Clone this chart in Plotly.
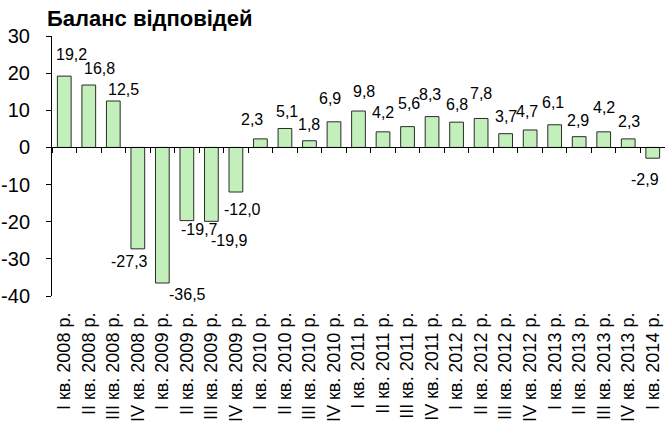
import plotly.graph_objects as go

# ---- data ----
quarters = ["I", "II", "III", "IV"]
categories = [f"{q} кв. {y} р." for y in range(2008, 2015) for q in quarters][:25]
values = [19.2, 16.8, 12.5, -27.3, -36.5, -19.7, -19.9, -12.0,
          2.3, 5.1, 1.8, 6.9, 9.8, 4.2, 5.6, 8.3,
          6.8, 7.8, 3.7, 4.7, 6.1, 2.9, 4.2, 2.3, -2.9]
labels = [f"{v:.1f}".replace(".", ",") for v in values]
y_ticks = [-40, -30, -20, -10, 0, 10, 20, 30]
y_ticktext = [str(t) for t in y_ticks]  # plain hyphen minus, as in the original

# ---- label nudges (px, as placed in the original chart) ----
label_dx = [7, 11, 10, -8, 25, 13, 18, 7, -8, 2, 0, -4, 5, 0, 1, -2,
            0, 0, 0, -3, -2, -1, 0, 1, -8]
label_dy = [22, 17, 12, -13, -11, -9, -19, -17, 19, 17, 16, 23, 20, 19, 23, 22,
            18, 25, 17, 18, 22, 16, 24, 17, -21]

W, H = 665, 424
ML, MR, MT, MB = 52, 0, 36, 128
YMIN, YMAX = -40, 30

fig = go.Figure()
fig.add_trace(go.Bar(
    x=categories, y=values,
    marker=dict(color="#c2efba", line=dict(color="#2b2b2b", width=1)),
    width=0.56, hoverinfo="skip",
))

annotations = []
for c, v, t, dx, dy in zip(categories, values, labels, label_dx, label_dy):
    annotations.append(dict(
        x=c, y=v, text=t, showarrow=False, xref="x", yref="y",
        xanchor="center", yanchor="middle", xshift=dx, yshift=dy,
        font=dict(family="Liberation Sans, Arial", size=16, color="black"),
    ))

fig.update_layout(
    width=W, height=H,
    margin=dict(l=ML, r=MR, t=MT, b=MB, autoexpand=False),
    paper_bgcolor="white", plot_bgcolor="white",
    showlegend=False,
    font=dict(family="Liberation Sans, Arial", color="black"),
    title=dict(text="<b>Баланс відповідей</b>", x=47 / W, xref="container", xanchor="left",
               y=1 - 18 / H, yref="container", yanchor="middle",
               font=dict(size=22, color="black")),
    annotations=annotations,
    xaxis=dict(type="category", tickangle=-90, showline=False, ticks="",
               showgrid=False, zeroline=False, range=[-0.5, 24.5], automargin=False,
               tickfont=dict(size=18), ticklabelstandoff=12),
    xaxis2=dict(overlaying="x", anchor="free", position=(0 - YMIN) / (YMAX - YMIN),
                range=[-0.5, 24.5], tick0=-0.5, dtick=1, ticks="outside", ticklen=5,
                tickcolor="black", showline=True, linecolor="black", linewidth=1,
                showticklabels=False, showgrid=False, zeroline=False, automargin=False),
    yaxis=dict(range=[YMIN, YMAX], tickmode="array", tickvals=y_ticks, ticktext=y_ticktext,
               ticks="outside", ticklen=5, tickcolor="black",
               showline=True, linecolor="black", linewidth=1, showgrid=False,
               zeroline=False, tickfont=dict(size=20), ticklabelstandoff=12,
               automargin=False),
)
# invisible trace to activate xaxis2 (the zero line with boundary ticks)
fig.add_trace(go.Scatter(x=[None], y=[None], xaxis="x2", yaxis="y", showlegend=False,
                         hoverinfo="skip"))

fig.write_html("out.html", config={"displayModeBar": False},
               post_script="document.body.style.margin='0';document.body.style.overflow='hidden';")
